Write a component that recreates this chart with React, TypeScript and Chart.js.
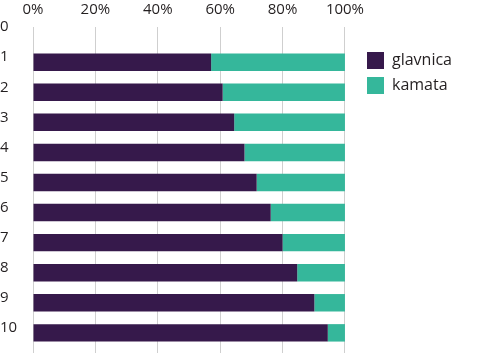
import React, { useEffect, useRef } from 'react';
import { Chart, registerables } from 'chart.js';

Chart.register(...registerables);

// ---- data ----
const rowLabels = ['0', '1', '2', '3', '4', '5', '6', '7', '8', '9', '10'];
const rows = [1, 2, 3, 4, 5, 6, 7, 8, 9, 10];
const glavnica = [57.1, 60.8, 64.5, 67.8, 71.7, 76.2, 80.0, 84.7, 90.2, 94.5];
const kamata = [42.9, 39.2, 35.5, 32.2, 28.3, 23.8, 20.0, 15.3, 9.8, 5.5];
const seriesNames = ['glavnica', 'kamata'];

// ---- styles ----
const PURPLE = '#36194b';
const TEAL = '#35b79b';
const TEXT = '#231f20';
const GRID = '#cfcfcf';
const FONT = "'Open Sans', sans-serif";

export default function App() {
  const ref = useRef<HTMLCanvasElement | null>(null);

  useEffect(() => {
    if (!ref.current) return;
    const chart = new Chart(ref.current, {
      type: 'bar',
      data: {
        datasets: [
          {
            label: seriesNames[0],
            data: rows.map((r, i) => ({ x: glavnica[i], y: r })),
            backgroundColor: PURPLE,
            categoryPercentage: 1,
            barPercentage: 0.58,
          },
          {
            label: seriesNames[1],
            data: rows.map((r, i) => ({ x: kamata[i], y: r })),
            backgroundColor: TEAL,
            categoryPercentage: 1,
            barPercentage: 0.58,
          },
        ],
      },
      options: {
        indexAxis: 'y',
        animation: false,
        responsive: false,
        layout: { padding: { left: 0, right: 22, top: 0, bottom: 0 } },
        scales: {
          x: {
            type: 'linear',
            position: 'top',
            stacked: true,
            min: 0,
            max: 104.5,
            ticks: {
              stepSize: 20,
              includeBounds: false,
              callback: (v: any) => v + '%',
              padding: 8,
              color: TEXT,
              font: { family: FONT, size: 15 },
            },
            grid: { color: GRID, drawTicks: false, lineWidth: 1 },
            border: { display: false },
            afterFit: (s: any) => {
              s.height = 27;
            },
          },
          y: {
            type: 'linear',
            reverse: true,
            stacked: true,
            offset: false,
            min: -0.17,
            max: 10.67,
            ticks: {
              stepSize: 1,
              includeBounds: false,
              autoSkip: false,
              callback: (v: any) => rowLabels[v] ?? '',
              crossAlign: 'far',
              labelOffset: -5,
              padding: 0,
              color: TEXT,
              font: { family: FONT, size: 15 },
            },
            grid: { display: false },
            border: { display: false },
            afterFit: (s: any) => {
              s.width = 33;
              s.paddingTop = 0;
              s.paddingBottom = 0;
            },
          },
        },
        plugins: {
          legend: {
            position: 'right',
            align: 'start',
            title: { display: true, text: '', padding: { top: 32, bottom: 0 }, font: { size: 10 } },
            labels: {
              boxWidth: 17,
              boxHeight: 17,
              padding: 8,
              color: TEXT,
              font: { family: FONT, size: 16 },
            },
          },
          tooltip: { enabled: false },
        },
      } as any,
    });
    return () => chart.destroy();
  }, []);

  return (
    <div style={{ position: 'absolute', left: 0, top: 0, width: 484, height: 353 }}>
      <canvas ref={ref} width={484} height={353} style={{ display: 'block' }} />
    </div>
  );
}
